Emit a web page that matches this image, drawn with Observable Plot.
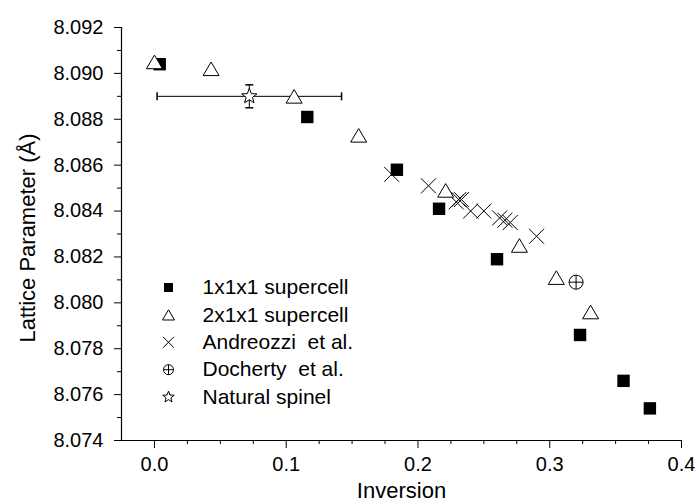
<!DOCTYPE html>
<html><head><meta charset="utf-8">
<script src="https://cdn.jsdelivr.net/npm/d3@7"></script>
<script src="https://cdn.jsdelivr.net/npm/@observablehq/plot@0.6"></script>
<style>body{margin:0;background:#fff;}</style>
</head><body><div id="chart"></div>
<script>
// 1x1x1 supercell
const sq_x = [0.004, 0.116, 0.184, 0.216, 0.260, 0.323, 0.356, 0.376];
const sq_y = [8.0904, 8.0881, 8.0858, 8.0841, 8.0819, 8.0786, 8.0766, 8.0754];
// 2x1x1 supercell
const tri_x = [0.000, 0.043, 0.106, 0.155, 0.221, 0.277, 0.305, 0.331];
const tri_y = [8.0905, 8.0902, 8.0890, 8.0873, 8.0849, 8.0825, 8.0811, 8.0796];
// Andreozzi et al.
const and_x = [0.180, 0.208, 0.229, 0.231, 0.233, 0.240, 0.250, 0.262, 0.266, 0.270, 0.290];
const and_y = [8.0856, 8.0851, 8.0844, 8.0845, 8.0845, 8.0840, 8.0840, 8.0837, 8.0836, 8.0835, 8.0829];
// Docherty et al.
const doc_x = [0.320];
const doc_y = [8.0809];
// Natural spinel (with error bars)
const nat_x = [0.072];
const nat_y = [8.0890];
const nat_xerr = [0.070];
const nat_yerr = [0.0005];

const legendLabels = ["1x1x1 supercell", "2x1x1 supercell", "Andreozzi  et al.", "Docherty  et al.", "Natural spinel"];
const xMajor = [0, 0.1, 0.2, 0.3, 0.4];
const xMinor = [0.025, 0.05, 0.075, 0.125, 0.15, 0.175, 0.225, 0.25, 0.275, 0.325, 0.35, 0.375];
const yMajor = [8.074, 8.076, 8.078, 8.080, 8.082, 8.084, 8.086, 8.088, 8.090, 8.092];
const yMinor = [8.075, 8.077, 8.079, 8.081, 8.083, 8.085, 8.087, 8.089, 8.091];

const zip = (xs, ys) => xs.map((x, i) => ({x, y: ys[i]}));
const sq = zip(sq_x, sq_y), tri = zip(tri_x, tri_y), and = zip(and_x, and_y), doc = zip(doc_x, doc_y);
const nat = nat_x.map((x, i) => ({x, y: nat_y[i], xe: nat_xerr[i], ye: nat_yerr[i]}));

function sym(f) { return {draw(c, size) { const r = Math.sqrt(size / Math.PI); f(c, r); }}; }
const squareSym = sym((c, r) => { c.rect(-r, -r, 2 * r, 2 * r); });
const triSym = sym((c, r) => { const h = 1.7 * r; c.moveTo(0, -h / 2); c.lineTo(r, h / 2); c.lineTo(-r, h / 2); c.closePath(); });
const crossSym = sym((c, r) => { c.moveTo(-r, -r); c.lineTo(r, r); c.moveTo(-r, r); c.lineTo(r, -r); });
const oplusSym = sym((c, r) => { c.moveTo(r, 0); c.arc(0, 0, r, 0, 2 * Math.PI); c.moveTo(-r, 0); c.lineTo(r, 0); c.moveTo(0, -r); c.lineTo(0, r); });
const starSym = sym((c, R) => {
  const ri = R * 0.42;
  for (let k = 0; k < 10; k++) {
    const rr = k % 2 === 0 ? R : ri;
    const a = -Math.PI / 2 + k * Math.PI / 5;
    const px = rr * Math.cos(a), py = rr * Math.sin(a);
    if (k === 0) c.moveTo(px, py); else c.lineTo(px, py);
  }
  c.closePath();
});
const vCap = sym((c, r) => { c.moveTo(0, -r); c.lineTo(0, r); });
const hCap = sym((c, r) => { c.moveTo(-r, 0); c.lineTo(r, 0); });

const font = "Liberation Sans, Arial, Helvetica, sans-serif";

const styles = [
  {symbol: squareSym, r: 6.2, fill: "black", stroke: "none", lr: 4.5},
  {symbol: triSym, r: 8, fill: "white", stroke: "black", lr: 6},
  {symbol: crossSym, r: 7.5, fill: "none", stroke: "black", lr: 5.5},
  {symbol: oplusSym, r: 7, fill: "none", stroke: "black", lr: 5},
  {symbol: starSym, r: 8, fill: "white", stroke: "black", lr: 6}
];

const legendMarks = [];
legendLabels.forEach((lab, i) => {
  const s = styles[i];
  const dy = 260 + i * 27.4;
  legendMarks.push(Plot.dot([0], {frameAnchor: "top-left", dx: 47, dy, symbol: s.symbol, r: s.lr, fill: s.fill, stroke: s.stroke, strokeWidth: 1}));
  legendMarks.push(Plot.text([lab], {text: d => d, frameAnchor: "top-left", dx: 81, dy, textAnchor: "start", lineAnchor: "middle", fontSize: 21, fill: "black"}));
});

const chart = Plot.plot({
  width: 695, height: 504,
  marginLeft: 121, marginRight: 14, marginTop: 27, marginBottom: 64,
  style: {fontFamily: font, background: "white", color: "black"},
  x: {domain: [-0.025, 0.4]},
  y: {domain: [8.074, 8.092]},
  marks: [
    Plot.axisX({ticks: xMinor, tickSize: 4, tickFormat: () => "", label: null, stroke: "black"}),
    Plot.axisX({ticks: xMajor, tickSize: 8, tickPadding: 8, tickFormat: d3.format(".1f"), fontSize: 20, label: null, stroke: "black", fill: "black"}),
    Plot.axisY({ticks: yMinor, tickSize: 4, tickFormat: () => "", label: null, stroke: "black"}),
    Plot.axisY({ticks: yMajor, tickSize: 7, tickPadding: 11, tickFormat: d3.format(".3f"), fontSize: 20, label: null, stroke: "black", fill: "black"}),
    Plot.ruleY([8.074], {stroke: "black", strokeWidth: 1.2}),
    Plot.ruleX([-0.025], {stroke: "black", strokeWidth: 1.2}),
    // error bars
    Plot.link(nat, {x1: d => d.x - d.xe, x2: d => d.x + d.xe, y1: "y", y2: "y", stroke: "black", strokeWidth: 1}),
    Plot.link(nat, {x1: "x", x2: "x", y1: d => d.y - d.ye, y2: d => d.y + d.ye, stroke: "black", strokeWidth: 1}),
    Plot.dot(nat, {x: d => d.x - d.xe, y: "y", symbol: vCap, r: 4, stroke: "black", fill: "none"}),
    Plot.dot(nat, {x: d => d.x + d.xe, y: "y", symbol: vCap, r: 4, stroke: "black", fill: "none"}),
    Plot.dot(nat, {x: "x", y: d => d.y - d.ye, symbol: hCap, r: 4, stroke: "black", fill: "none"}),
    Plot.dot(nat, {x: "x", y: d => d.y + d.ye, symbol: hCap, r: 4, stroke: "black", fill: "none"}),
    // data
    Plot.dot(and, {x: "x", y: "y", symbol: crossSym, r: 7.5, stroke: "black", fill: "none", strokeWidth: 1}),
    Plot.dot(sq, {x: "x", y: "y", symbol: squareSym, r: 6.2, fill: "black", stroke: "none"}),
    Plot.dot(tri, {x: "x", y: "y", symbol: triSym, r: 8, fill: "white", stroke: "black", strokeWidth: 1}),
    Plot.dot(doc, {x: "x", y: "y", symbol: oplusSym, r: 7, stroke: "black", fill: "none", strokeWidth: 1}),
    Plot.dot(nat, {x: "x", y: "y", symbol: starSym, r: 8, fill: "white", stroke: "black", strokeWidth: 1}),
    // titles
    Plot.text(["Inversion"], {text: d => d, frameAnchor: "bottom", dy: 50, textAnchor: "middle", lineAnchor: "middle", fontSize: 22, fill: "black"}),
    Plot.text(["Lattice Parameter (Å)"], {text: d => d, frameAnchor: "left", dx: -94, dy: 4, rotate: -90, textAnchor: "middle", lineAnchor: "middle", fontSize: 22, fill: "black"}),
    ...legendMarks
  ]
});
document.getElementById("chart").appendChild(chart);
</script>
</body></html>
